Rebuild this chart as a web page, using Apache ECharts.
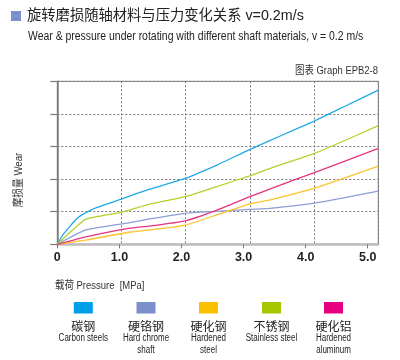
<!DOCTYPE html>
<html><head><meta charset="utf-8">
<script src="https://cdn.jsdelivr.net/npm/echarts@6/dist/echarts.min.js"></script>
<style>html,body{margin:0;padding:0;background:#fff}#c{width:400px;height:360px}</style>
</head><body><div id="c"></div>
<script>
// ---- data ----
const xTickLabels = ['0', '1.0', '2.0', '3.0', '4.0', '5.0'];
const seriesNamesCn = ['碳钢', '硬铬钢', '硬化钢', '不锈钢', '硬化铝'];
const seriesNamesEn = [['Carbon steels'], ['Hard chrome', 'shaft'], ['Hardened', 'steel'], ['Stainless steel'], ['Hardened', 'aluminum']];
const carbonSteels = [[0,0],[0.05,0.17],[0.11,0.34],[0.22,0.59],[0.32,0.80],[0.46,0.97],[0.64,1.13],[1.02,1.38],[1.49,1.69],[2.06,2.02],[2.57,2.43],[3.08,2.89],[3.6,3.33],[4.14,3.78],[4.65,4.25],[5.17,4.73]];
const hardChrome = [[0,0],[0.46,0.44],[1.15,0.66],[1.49,0.78],[2.06,0.95],[2.57,1.01],[3.10,1.07],[3.43,1.10],[4.14,1.26],[5.17,1.63]];
const hardenedSteel = [[0,0],[0.46,0.13],[1.15,0.37],[1.49,0.44],[2.06,0.59],[2.57,0.90],[3.10,1.24],[3.43,1.36],[4.14,1.72],[5.17,2.40]];
const stainless = [[0,0],[0.22,0.39],[0.46,0.77],[1.02,0.98],[1.49,1.23],[2.06,1.46],[2.57,1.77],[3.10,2.10],[3.43,2.33],[4.14,2.79],[4.65,3.20],[5.17,3.64]];
const hardenedAluminum = [[0,0],[0.46,0.23],[1.15,0.49],[1.49,0.56],[2.06,0.72],[2.57,1.05],[3.10,1.46],[3.43,1.70],[4.14,2.20],[5.17,2.94]];
const lineColors = ['#22a8e6', '#8c9fd4', '#fdc42a', '#b3d12a', '#e8347f'];
const legendColors = ['#00a0e9', '#7a8fcb', '#fbc100', '#a5c800', '#e4007f'];
const allSeries = [carbonSteels, hardChrome, hardenedSteel, stainless, hardenedAluminum];

const latin = "'Liberation Sans',Arial,'Noto Sans CJK SC',sans-serif";
const cjk = "'Noto Sans CJK SC','Liberation Sans',sans-serif";

const chart = echarts.init(document.getElementById('c'), null, {renderer: 'canvas'});

const graphics = [
  {type: 'rect', shape: {x: 11, y: 11, width: 10, height: 10}, style: {fill: '#7b8fcb'}},
  {type: 'text', x: 27, y: 16, style: {text: '旋转磨损随轴材料与压力变化关系 v=0.2m/s', font: '14.3px ' + latin, fill: '#222', textVerticalAlign: 'middle'}},
  {type: 'text', x: 28, y: 37, scaleX: 0.87, style: {text: 'Wear & pressure under rotating with different shaft materials, v = 0.2 m/s', font: '12px ' + latin, fill: '#222', textVerticalAlign: 'middle'}},
  {type: 'text', x: 378, y: 71, scaleX: 0.86, style: {text: '图表 Graph EPB2-8', font: '11px ' + latin, fill: '#333', textAlign: 'right', textVerticalAlign: 'middle'}},
  {type: 'text', x: 19, y: 180, rotation: Math.PI / 2, scaleX: 0.88, style: {text: '摩损量 Wear', font: '11px ' + latin, fill: '#333', textAlign: 'center', textVerticalAlign: 'middle'}},
  {type: 'text', x: 55, y: 286, scaleX: 0.86, style: {text: '载荷 Pressure  [MPa]', font: '11px ' + latin, fill: '#333', textVerticalAlign: 'middle'}}
];
const legendCx = [83.3, 146, 208.5, 271.5, 333.5];
seriesNamesCn.forEach(function (n, i) {
  graphics.push({type: 'rect', shape: {x: legendCx[i] - 9.5, y: 302, width: 19, height: 11.5}, style: {fill: legendColors[i]}});
  graphics.push({type: 'text', x: legendCx[i], y: 326, style: {text: n, font: '12px ' + cjk, fill: '#222', textAlign: 'center', textVerticalAlign: 'middle'}});
  seriesNamesEn[i].forEach(function (t, j) {
    graphics.push({type: 'text', x: legendCx[i], y: 338.5 + j * 11.7, scaleX: 0.8, style: {text: t, font: '10px ' + latin, fill: '#222', textAlign: 'center', textVerticalAlign: 'middle'}});
  });
});

chart.setOption({
  animation: false,
  grid: {left: 57.3, right: 21.7, top: 81.3, bottom: 115.7, show: true, borderColor: '#7a7a7a', borderWidth: 1, backgroundColor: 'transparent'},
  xAxis: [
    {type: 'value', min: 0, max: 5.17, interval: 1,
     axisLine: {show: true, onZero: false, lineStyle: {color: '#bdbdbd', width: 2.5}},
     axisTick: {show: true, length: 4, lineStyle: {color: '#777'}},
     axisLabel: {margin: 7, color: '#222', fontSize: 12.5, fontWeight: 'bold', fontFamily: 'Liberation Sans, Arial, sans-serif',
       formatter: function (v) { return xTickLabels[Math.round(v)]; }},
     splitLine: {show: false}},
    {type: 'value', min: 0, max: 5, interval: 1, position: 'bottom',
     axisLine: {show: false}, axisTick: {show: false}, axisLabel: {show: false},
     splitLine: {show: true, lineStyle: {color: '#777', type: [2, 2], width: 1}}}
  ],
  yAxis: {type: 'value', min: 0, max: 5, interval: 1,
    axisLine: {show: true, lineStyle: {color: '#7a7a7a', width: 1.5}},
    axisTick: {show: true, length: 7, lineStyle: {color: '#7a7a7a', width: 1.2}},
    axisLabel: {show: false},
    splitLine: {show: true, lineStyle: {color: '#777', type: [2, 2], width: 1}}},
  graphic: graphics,
  series: allSeries.map(function (d, i) {
    return {type: 'line', name: seriesNamesCn[i], xAxisIndex: 0, data: d, showSymbol: false, smooth: 0.15,
      lineStyle: {color: lineColors[i], width: 1.3}, z: 3};
  })
});
</script></body></html>
